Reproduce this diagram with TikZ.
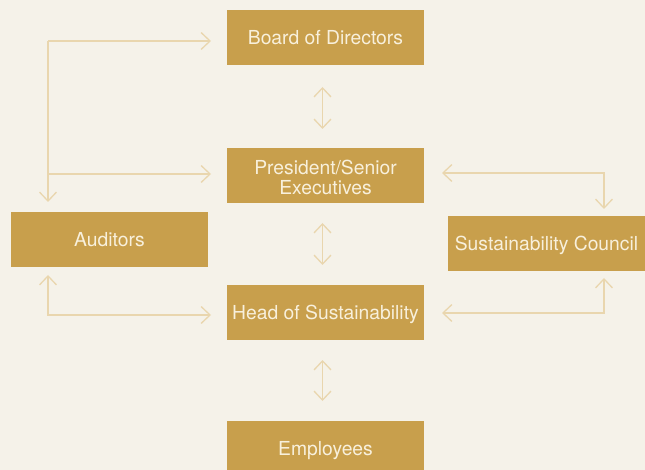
\documentclass[tikz,border=0pt]{standalone}
\usepackage{fontspec}
\setmainfont{TeX Gyre Heros}
\usetikzlibrary{arrows.meta}
\definecolor{bg}{RGB}{245,242,233}
\definecolor{boxfill}{RGB}{200,159,76}
\definecolor{boxtext}{RGB}{248,240,220}
\definecolor{arrowcol}{RGB}{233,214,174}
\tikzset{
  orgbase/.style={fill=boxfill, text=boxtext, minimum width=197pt, minimum height=55pt,
    inner sep=0pt, align=center, font=\fontsize{19.3}{20}\selectfont},
  orgbox/.style={orgbase, text height=13.9pt, text depth=0pt},
  orgtext/.style={text=boxtext, inner sep=0pt, align=center, font=\fontsize{19.3}{20}\selectfont},
  link/.style={draw=arrowcol, line width=1.3pt,
    arrows={-Straight Barb[length=9pt,width=17pt]}},
  dlink/.style={draw=arrowcol, line width=1.3pt,
    arrows={Straight Barb[length=9pt,width=17pt]-Straight Barb[length=9pt,width=17pt]}}
}
\begin{document}
\begin{tikzpicture}[x=1pt,y=-1pt]
\useasboundingbox (0,0) rectangle (645,470);
\fill[bg] (0,0) rectangle (645,470);
\clip (0,0) rectangle (645,470);
% boxes
\node[orgbox] (board) at (325.5,37.5) {Board of Directors};
\node[orgbase] (pres) at (325.5,175.5) {};
\node[orgtext] (prestext) at ([yshift=-2pt]pres.center) {President/Senior\\Executives};
\node[orgbox] (aud) at (109.5,239.5) {Auditors};
\node[orgbox] (head) at (325.5,312.5) {Head of Sustainability};
\node[orgbox] (emp) at (325.5,448.5) {Employees};
\node[orgbox] (council) at (546.5,243.5) {Sustainability Council};
% coordinates for connectors
\coordinate (lt) at (48,41);
\coordinate (lboard) at (211,41);
\coordinate (lpres0) at (48,174);
\coordinate (lpres) at (211,174);
\coordinate (laud) at (48,202);
\coordinate (laudb) at (48,275);
\coordinate (lb) at (48,315);
\coordinate (lhead) at (211,315);
\coordinate (rpres) at (442,173);
\coordinate (rtc) at (604,173);
\coordinate (rct) at (604,209);
\coordinate (rhead) at (442,313);
\coordinate (rbc) at (604,313);
\coordinate (rcb) at (604,278);
\coordinate (bp1) at (322.5,87);
\coordinate (bp2) at (322.5,129);
\coordinate (ph1) at (322.5,223);
\coordinate (ph2) at (322.5,265);
\coordinate (he1) at (322.5,360);
\coordinate (he2) at (322.5,401);
% connectors
\draw[link] (lt) -- (lboard);
\draw[link] (lt) -- (laud);
\draw[link] (lpres0) -- (lpres);
\draw[dlink] (laudb) -- (lb) -- (lhead);
\draw[dlink] (rpres) -- (rtc) -- (rct);
\draw[dlink] (rhead) -- (rbc) -- (rcb);
\draw[dlink] (bp1) -- (bp2);
\draw[dlink] (ph1) -- (ph2);
\draw[dlink] (he1) -- (he2);
\end{tikzpicture}
\end{document}
